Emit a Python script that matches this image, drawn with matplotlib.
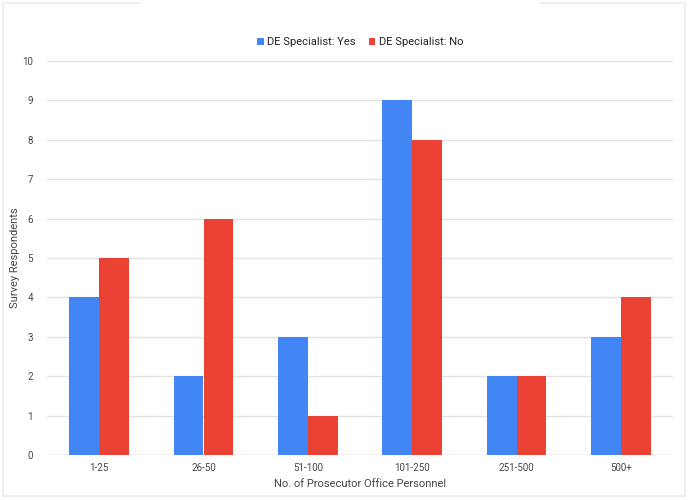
import matplotlib
matplotlib.use("Agg")
import matplotlib.pyplot as plt
from matplotlib.lines import Line2D
import numpy as np

categories = ["1-25", "26-50", "51-100", "101-250", "251-500", "500+"]
yes_counts = [4, 2, 3, 9, 2, 3]
no_counts = [5, 6, 1, 8, 2, 4]

blue = "#4285F4"
red = "#EA4335"

plt.rcParams["font.family"] = ["Roboto", "DejaVu Sans"]

fig = plt.figure(figsize=(6.88, 5.0), dpi=100)
ax = fig.add_axes([47 / 688, 45 / 500, 626 / 688, 394 / 500])

x = np.arange(len(categories))
w = 0.285
ax.bar(x - w / 2, yes_counts, w, color=blue, label="DE Specialist: Yes", zorder=3)
ax.bar(x + w / 2, no_counts, w, color=red, label="DE Specialist: No", zorder=3)

ax.set_xlim(-0.5, len(categories) - 0.5)
ax.set_ylim(0, 10)
ax.set_yticks(range(0, 11))
ax.set_xticks(x)
ax.set_xticklabels(categories)
ax.tick_params(axis="both", length=0, labelsize=7, colors="#444444")
ax.tick_params(axis="y", pad=10)
ax.tick_params(axis="x", pad=6)
ax.grid(axis="y", color="#e3e3e3", linewidth=1, zorder=0)
for s in ax.spines.values():
    s.set_visible(False)
ax.axhline(0, color="#d9d9d9", linewidth=1, zorder=2)

ax.set_xlabel("No. of Prosecutor Office Personnel", fontsize=8, color="#444444", labelpad=4)
ax.set_ylabel("Survey Respondents", fontsize=8, color="#444444")
ax.yaxis.set_label_coords(-27 / 626, 0.5)

ax.legend(loc="lower center", bbox_to_anchor=(0.5, 1.01), ncol=2, frameon=False,
          fontsize=8, handlelength=0.6, handleheight=0.6, handletextpad=0.3,
          columnspacing=1.2, labelcolor="#222222")

# light frame around the chart with a gap at top
bc = "#ebebeb"
fig.add_artist(Line2D([3 / 688, 3 / 688], [4 / 500, 497 / 500], color=bc, lw=1.2))
fig.add_artist(Line2D([685 / 688, 685 / 688], [4 / 500, 497 / 500], color=bc, lw=1.2))
fig.add_artist(Line2D([3 / 688, 685 / 688], [4 / 500, 4 / 500], color=bc, lw=1.2))
fig.add_artist(Line2D([3 / 688, 140 / 688], [497 / 500, 497 / 500], color=bc, lw=1.2))
fig.add_artist(Line2D([541 / 688, 685 / 688], [497 / 500, 497 / 500], color=bc, lw=1.2))

fig.savefig("out.png", dpi=100)
